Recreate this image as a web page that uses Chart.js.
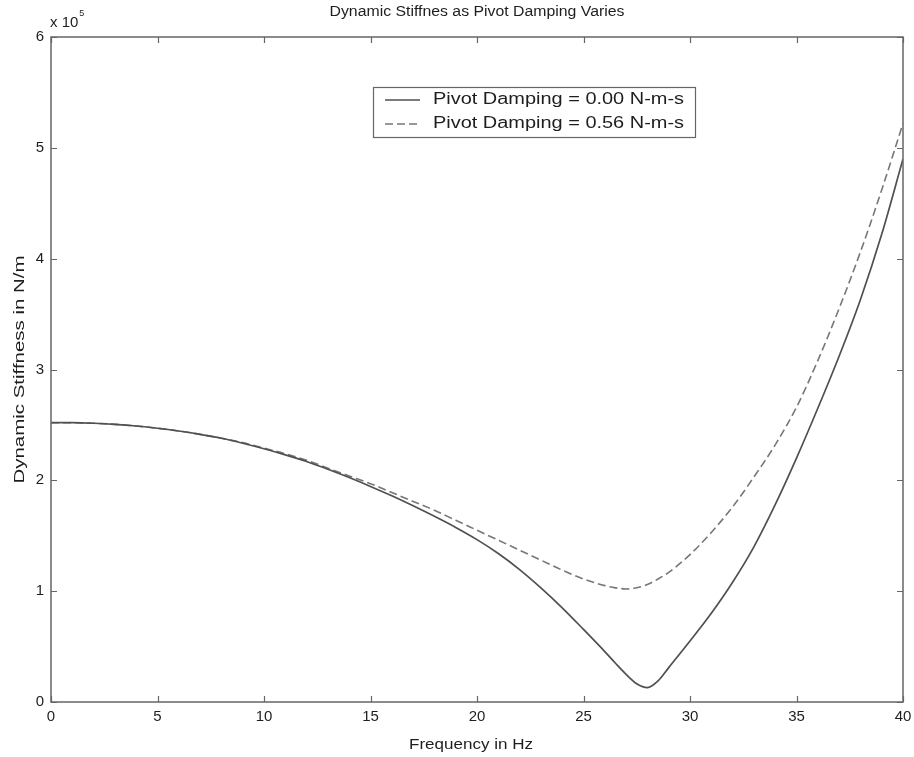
<!DOCTYPE html>
<html>
<head>
<meta charset="utf-8">
<script src="https://cdn.jsdelivr.net/npm/chart.js@4/dist/chart.umd.min.js"></script>
<style>
  html, body { margin: 0; padding: 0; background: #fff; }
  #wrap { width: 914px; height: 757px; }
</style>
</head>
<body>
<div id="wrap"><canvas id="c" width="914" height="757"></canvas></div>
<script>
// ---- data (values in units of 10^5 N/m) ----
const freqHz = [0,1,2,3,4,5,6,7,8,9,10,11,12,13,14,15,16,17,18,19,20,21,22,23,24,25,26,26.5,27,27.5,28,28.5,29,30,31,32,33,34,35,36,37,38,39,40];
const stiffNoDamping = [2.52,2.52,2.515,2.505,2.49,2.47,2.445,2.415,2.38,2.335,2.285,2.23,2.17,2.10,2.025,1.945,1.86,1.77,1.675,1.575,1.465,1.34,1.195,1.03,0.85,0.655,0.455,0.35,0.25,0.165,0.13,0.19,0.31,0.55,0.80,1.08,1.40,1.78,2.20,2.65,3.12,3.63,4.22,4.90];
const stiffDamped    = [2.52,2.52,2.515,2.505,2.49,2.47,2.445,2.415,2.38,2.34,2.29,2.24,2.18,2.11,2.04,1.97,1.89,1.81,1.73,1.64,1.55,1.46,1.37,1.28,1.19,1.11,1.05,1.03,1.02,1.03,1.06,1.11,1.17,1.33,1.53,1.76,2.03,2.32,2.66,3.08,3.55,4.06,4.62,5.22];
const seriesLabels = ['Pivot Damping = 0.00 N-m-s', 'Pivot Damping = 0.56 N-m-s'];
const xTicks = [0,5,10,15,20,25,30,35,40];
const yTicks = [0,1,2,3,4,5,6];
const chartTitle = 'Dynamic Stiffnes as Pivot Damping Varies';
const xTitle = 'Frequency in Hz';
const yTitle = 'Dynamic Stiffness in N/m';
const exponentText = '5';

const FONT = 'Arial, "Liberation Sans", Helvetica, sans-serif';
const TXT = '#1e1e1e';
const AX = '#666';

const toXY = (ys) => freqHz.map((f, i) => ({ x: f, y: ys[i] }));

// draw text stretched horizontally to a target width
function fitText(ctx, text, x, y, targetW, size, align, rotate) {
  ctx.save();
  ctx.translate(x, y);
  if (rotate) ctx.rotate(-Math.PI / 2);
  ctx.font = size + 'px ' + FONT;
  const w = ctx.measureText(text).width;
  ctx.scale(targetW / w, 1);
  ctx.textAlign = align;
  ctx.textBaseline = 'middle';
  ctx.fillText(text, 0, 0);
  ctx.restore();
}

const decor = {
  id: 'decor',
  afterDatasetsDraw(chart) {
    const { ctx, chartArea: a, scales: { x, y } } = chart;
    ctx.save();
    // box
    ctx.strokeStyle = AX;
    ctx.lineWidth = 1.5;
    ctx.strokeRect(a.left, a.top, a.right - a.left, a.bottom - a.top);
    // inward ticks on all sides
    ctx.lineWidth = 1.2;
    ctx.beginPath();
    const tl = 6;
    xTicks.forEach(v => {
      const px = Math.round(x.getPixelForValue(v)) + 0.5;
      ctx.moveTo(px, a.bottom); ctx.lineTo(px, a.bottom - tl);
      ctx.moveTo(px, a.top); ctx.lineTo(px, a.top + tl);
    });
    yTicks.forEach(v => {
      const py = Math.round(y.getPixelForValue(v)) + 0.5;
      ctx.moveTo(a.left, py); ctx.lineTo(a.left + tl, py);
      ctx.moveTo(a.right, py); ctx.lineTo(a.right - tl, py);
    });
    ctx.stroke();

    ctx.fillStyle = TXT;
    // title and axis titles
    fitText(ctx, chartTitle, (a.left + a.right) / 2, 12, 295, 14, 'center', false);
    fitText(ctx, xTitle, (a.left + a.right) / 2 - 6, 745, 124, 15, 'center', false);
    fitText(ctx, yTitle, 20, (a.top + a.bottom) / 2, 228, 15, 'center', true);

    // exponent label
    ctx.textAlign = 'left';
    ctx.textBaseline = 'alphabetic';
    ctx.font = '15px ' + FONT;
    ctx.fillText('x 10', a.left - 1, 27);
    const w = ctx.measureText('x 10').width;
    ctx.font = '9px ' + FONT;
    ctx.fillText(exponentText, a.left - 1 + w + 1, 16);

    // legend
    const lx = 373, ly = 87, lw = 322, lh = 50;
    ctx.fillStyle = '#fff';
    ctx.fillRect(lx, ly, lw, lh);
    ctx.strokeStyle = AX;
    ctx.lineWidth = 1.2;
    ctx.strokeRect(lx + 0.5, ly + 0.5, lw, lh);
    chart.data.datasets.forEach((ds, i) => {
      const ry = ly + 13 + i * 24;
      ctx.strokeStyle = ds.borderColor;
      ctx.lineWidth = ds.borderWidth;
      ctx.setLineDash(ds.borderDash || []);
      ctx.beginPath();
      ctx.moveTo(lx + 12, ry); ctx.lineTo(lx + 47, ry);
      ctx.stroke();
      ctx.setLineDash([]);
      ctx.fillStyle = TXT;
      fitText(ctx, ds.label, lx + 60, ry, 251, 16, 'left', false);
    });
    ctx.restore();
  }
};

new Chart(document.getElementById('c'), {
  type: 'line',
  data: {
    datasets: [
      { label: seriesLabels[0], data: toXY(stiffNoDamping), borderColor: '#505050', borderWidth: 1.7, pointRadius: 0, cubicInterpolationMode: 'monotone', fill: false },
      { label: seriesLabels[1], data: toXY(stiffDamped), borderColor: '#777', borderWidth: 1.6, borderDash: [8, 4], pointRadius: 0, cubicInterpolationMode: 'monotone', fill: false }
    ]
  },
  options: {
    responsive: false,
    animation: false,
    devicePixelRatio: 1,
    layout: { padding: { top: 37, right: 11, left: 0, bottom: 0 } },
    plugins: { legend: { display: false }, title: { display: false }, tooltip: { enabled: false } },
    scales: {
      x: {
        type: 'linear', min: 0, max: 40,
        afterBuildTicks: (s) => { s.ticks = xTicks.map(v => ({ value: v })); },
        afterFit: (s) => { s.height = 55; s.paddingLeft = 0; s.paddingRight = 0; },
        grid: { display: false, drawTicks: false },
        border: { display: false },
        ticks: { color: TXT, font: { size: 15, family: FONT }, padding: 6, maxRotation: 0 },
        title: { display: false }
      },
      y: {
        min: 0, max: 6,
        afterBuildTicks: (s) => { s.ticks = yTicks.map(v => ({ value: v })); },
        afterFit: (s) => { s.width = 51; s.paddingTop = 0; s.paddingBottom = 0; },
        grid: { display: false, drawTicks: false },
        border: { display: false },
        ticks: { color: TXT, font: { size: 15, family: FONT }, padding: 7 },
        title: { display: false }
      }
    }
  },
  plugins: [decor]
});
</script>
</body>
</html>
